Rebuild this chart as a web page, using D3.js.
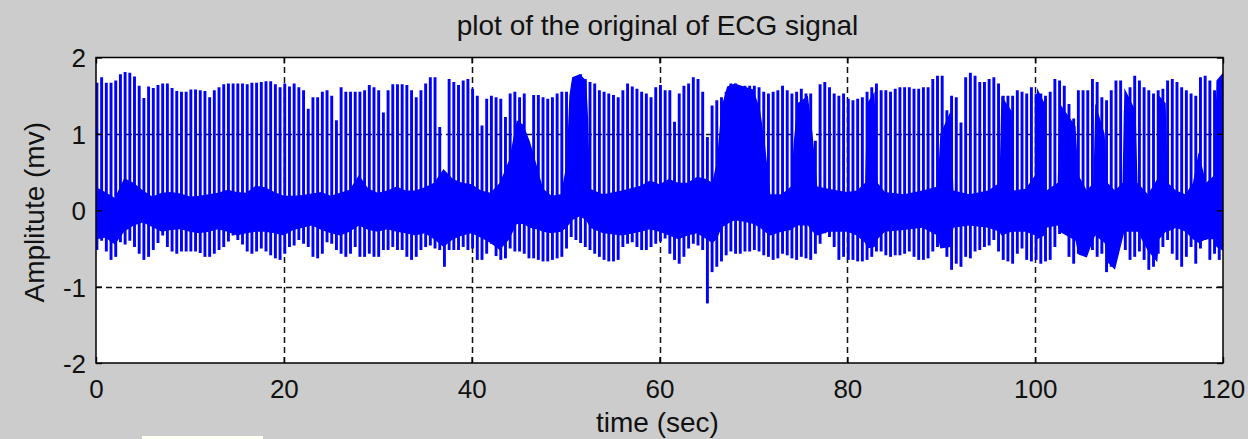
<!DOCTYPE html>
<html>
<head>
<meta charset="utf-8">
<script src="https://cdn.jsdelivr.net/npm/d3@7"></script>
<style>
  html, body { margin: 0; padding: 0; background: #cccccc; overflow: hidden; }
  text { font-family: "Liberation Sans", Arial, sans-serif; fill: #111; }
</style>
</head>
<body>
<div id="chart"></div>
<script>
// axis ticks
const xTicks = [0, 20, 40, 60, 80, 100, 120];
const yTicks = [-2, -1, 0, 1, 2];

// beats: one R peak every half second, first one at 0.1 s
const firstBeat = 0.1;
const beatPeriod = 0.5;

// R peak amplitude (mv), one per beat, read per 20 s panel
const peaks0 = [1.67, 1.74, 1.67, 1.67, 1.70, 1.78, 1.81, 1.80, 1.75, 1.63, 1.47, 1.62, 1.60, 1.64, 1.66, 1.66, 1.60, 1.56, 1.55, 1.55,
  1.58, 1.58, 1.57, 1.56, 1.48, 1.57, 1.61, 1.65, 1.66, 1.66, 1.66, 1.66, 1.65, 1.67, 1.67, 1.68, 1.69, 1.69, 1.65, 1.61];
const peaks20 = [1.66, 1.62, 1.66, 1.61, 1.57, 1.33, 1.48, 1.48, 1.55, 1.57, 1.50, 1.18, 1.61, 1.55, 1.55, 1.55, 1.55, 1.57, 1.64, 1.61,
  1.57, 1.28, 1.57, 1.65, 1.65, 1.65, 1.64, 1.57, 1.48, 1.57, 1.66, 1.74, 1.74, 1.09, 0.50, 1.72, 1.68, 1.64, 1.70, 1.72];
const peaks40 = [1.59, 1.50, 1.11, 1.46, 1.50, 1.48, 1.46, 1.22, 1.53, 1.55, 1.48, 1.53, 0.85, 1.51, 1.51, 1.48, 1.46, 1.48, 1.53, 1.55,
  1.55, 0.70, 1.70, 1.78, 1.72, 1.68, 1.66, 1.57, 1.55, 1.53, 1.51, 1.48, 1.57, 1.66, 1.62, 1.59, 1.55, 1.53, 1.48, 1.61];
const peaks60 = [1.64, 1.57, 1.57, 1.16, 1.53, 1.63, 1.66, 1.74, 1.72, 1.55, 0.96, 1.37, 1.44, 1.48, 1.55, 1.66, 1.66, 1.61, 1.63, 1.63,
  1.63, 1.61, 1.55, 1.53, 1.55, 1.57, 1.63, 1.57, 1.53, 1.55, 1.59, 1.53, 1.53, 0.91, 1.65, 1.68, 1.61, 1.53, 1.50, 1.53];
const peaks80 = [1.46, 1.44, 1.46, 1.48, 1.55, 1.61, 1.66, 1.57, 1.57, 1.55, 1.59, 1.61, 1.61, 1.61, 1.59, 1.59, 1.61, 1.61, 1.72, 1.76,
  1.76, 1.31, 1.50, 1.48, 1.15, 1.74, 1.80, 1.76, 1.68, 1.68, 1.72, 1.74, 1.66, 1.50, 1.50, 1.50, 1.57, 1.55, 1.53, 1.61];
const peaks100 = [1.53, 1.53, 1.50, 1.55, 1.72, 1.70, 1.63, 1.39, 1.20, 1.57, 1.57, 1.57, 1.72, 1.68, 1.48, 1.44, 1.57, 1.70, 1.70, 1.31,
  1.61, 1.76, 1.70, 1.61, 1.57, 1.53, 1.57, 1.59, 1.70, 1.72, 1.68, 1.61, 1.57, 1.53, 1.50, 1.74, 1.76, 1.70, 1.57, 1.68];

// S trough amplitude (mv), one per beat
const troughs0 = [-0.52, -0.40, -0.54, -0.65, -0.61, -0.42, -0.45, -0.40, -0.48, -0.57, -0.65, -0.61, -0.52, -0.43, -0.33, -0.48, -0.54, -0.57, -0.54, -0.54,
  -0.54, -0.54, -0.56, -0.61, -0.61, -0.57, -0.52, -0.48, -0.41, -0.33, -0.39, -0.45, -0.54, -0.57, -0.54, -0.50, -0.54, -0.59, -0.63, -0.65];
const troughs20 = [-0.57, -0.48, -0.46, -0.39, -0.44, -0.48, -0.61, -0.63, -0.57, -0.42, -0.44, -0.52, -0.57, -0.61, -0.57, -0.48, -0.61, -0.61, -0.57, -0.61,
  -0.61, -0.52, -0.52, -0.48, -0.52, -0.52, -0.61, -0.65, -0.61, -0.52, -0.48, -0.46, -0.50, -0.52, -0.74, -0.52, -0.52, -0.52, -0.48, -0.52];
const troughs40 = [-0.50, -0.65, -0.65, -0.57, -0.44, -0.60, -0.65, -0.63, -0.50, -0.54, -0.54, -0.57, -0.63, -0.63, -0.65, -0.67, -0.67, -0.65, -0.63, -0.61,
  -0.50, -0.35, -0.39, -0.43, -0.48, -0.52, -0.57, -0.61, -0.65, -0.67, -0.67, -0.65, -0.48, -0.44, -0.42, -0.48, -0.52, -0.52, -0.48, -0.44];
const troughs60 = [-0.41, -0.37, -0.57, -0.65, -0.70, -0.61, -0.50, -0.44, -0.46, -0.52, -1.22, -0.81, -0.74, -0.67, -0.59, -0.54, -0.57, -0.57, -0.54, -0.54,
  -0.52, -0.54, -0.59, -0.61, -0.65, -0.63, -0.57, -0.59, -0.63, -0.65, -0.61, -0.63, -0.65, -0.57, -0.44, -0.30, -0.35, -0.48, -0.65, -0.61];
const troughs80 = [-0.65, -0.65, -0.67, -0.67, -0.65, -0.61, -0.54, -0.54, -0.59, -0.61, -0.59, -0.59, -0.57, -0.54, -0.61, -0.65, -0.65, -0.63, -0.54, -0.48,
  -0.48, -0.61, -0.78, -0.70, -0.74, -0.61, -0.63, -0.54, -0.52, -0.48, -0.46, -0.39, -0.54, -0.65, -0.67, -0.70, -0.57, -0.50, -0.65, -0.67];
const troughs100 = [-0.65, -0.70, -0.67, -0.65, -0.48, -0.31, -0.22, -0.61, -0.70, -0.57, -0.48, -0.44, -0.52, -0.61, -0.57, -0.81, -0.74, -0.46, -0.26, -0.52,
  -0.65, -0.61, -0.54, -0.65, -0.78, -0.74, -0.57, -0.48, -0.39, -0.57, -0.65, -0.74, -0.61, -0.48, -0.70, -0.50, -0.39, -0.65, -0.57, -0.65];

// solid part of the trace: [time, upper edge, lower edge]
const bandA = [[0, 0.30, -0.38], [1, 0.24, -0.36], [2, 0.16, -0.45], [3, 0.42, -0.28], [4, 0.36, -0.20], [5, 0.26, -0.16], [6, 0.18, -0.22],
  [7, 0.23, -0.28], [8, 0.24, -0.26], [9, 0.22, -0.25], [10, 0.18, -0.28], [11, 0.19, -0.30], [12, 0.21, -0.28], [13, 0.23, -0.25],
  [14, 0.27, -0.28], [15, 0.24, -0.33], [16, 0.23, -0.30], [17, 0.32, -0.28], [18, 0.30, -0.28], [19, 0.24, -0.30], [20, 0.19, -0.33],
  [21, 0.19, -0.26], [22, 0.20, -0.23], [23, 0.22, -0.20], [24, 0.24, -0.26], [25, 0.19, -0.30], [26, 0.23, -0.33], [27, 0.27, -0.28],
  [28, 0.46, -0.20], [29, 0.28, -0.26], [30, 0.23, -0.28], [31, 0.26, -0.25], [32, 0.31, -0.28], [33, 0.26, -0.30], [34, 0.26, -0.33],
  [35, 0.30, -0.30], [36, 0.36, -0.38], [37, 0.54, -0.48], [38, 0.41, -0.38], [39, 0.36, -0.33], [40, 0.34, -0.30], [41, 0.26, -0.36],
  [42, 0.23, -0.43], [43, 0.36, -0.52], [44, 0.66, -0.38], [44.8, 1.18, -0.18], [45.5, 1.12, -0.18], [46.2, 0.90, -0.23], [46.9, 0.60, -0.25],
  [47.6, 0.28, -0.28], [48.5, 0.19, -0.30], [49.5, 0.21, -0.28], [50.1, 0.60, -0.23], [50.4, 1.50, -0.18], [50.7, 1.74, -0.13],
  [51.5, 1.78, -0.08], [52.2, 1.70, -0.13], [52.4, 1.20, -0.18], [52.6, 0.28, -0.23], [54, 0.21, -0.30], [56, 0.26, -0.33], [58, 0.32, -0.28],
  [59, 0.39, -0.25], [60, 0.34, -0.28]];
const bandB = [[61, 0.41, -0.33], [62, 0.36, -0.38], [63, 0.36, -0.33], [64, 0.44, -0.30], [65, 0.41, -0.38], [65.6, 0.36, -0.43],
  [66.1, 0.63, -0.38], [66.6, 1.35, -0.23], [67.2, 1.62, -0.18], [68, 1.66, -0.13], [69, 1.62, -0.15], [70, 1.58, -0.18], [70.7, 1.32, -0.23],
  [71.2, 0.90, -0.28], [71.8, 0.21, -0.33], [73, 0.21, -0.28], [74, 0.31, -0.26], [74.3, 0.90, -0.23], [74.7, 1.40, -0.20], [75.8, 1.50, -0.20],
  [76.3, 1.00, -0.28], [76.8, 0.31, -0.33], [78, 0.28, -0.28], [79, 0.26, -0.28], [80, 0.24, -0.28], [81, 0.26, -0.33], [81.9, 0.36, -0.43],
  [82.1, 1.40, -0.50], [82.9, 1.55, -0.48], [83.2, 0.36, -0.38], [84, 0.24, -0.28], [86, 0.21, -0.26], [88, 0.26, -0.23], [89.6, 0.31, -0.33],
  [89.9, 1.00, -0.50], [91.0, 1.30, -0.48], [91.3, 0.26, -0.23], [93, 0.21, -0.20], [95, 0.26, -0.23], [96.2, 0.36, -0.28], [96.4, 1.50, -0.33],
  [97.5, 1.30, -0.28], [97.7, 0.26, -0.28], [99, 0.28, -0.28], [100.0, 0.46, -0.33], [100.2, 1.60, -0.38], [101.0, 1.40, -0.33],
  [101.2, 0.26, -0.23], [102.4, 0.36, -0.20], [102.6, 1.40, -0.28], [104.3, 1.10, -0.40], [104.6, 0.46, -0.58], [105.5, 0.26, -0.62],
  [106.2, 0.36, -0.38], [106.4, 1.40, -0.33], [107.4, 1.00, -0.43], [107.7, 0.36, -0.68], [108.5, 0.26, -0.78], [109.3, 0.36, -0.38],
  [109.5, 1.60, -0.28], [110.7, 1.30, -0.28], [110.9, 0.36, -0.28], [112, 0.21, -0.53], [113, 0.41, -0.68], [113.2, 1.50, -0.38],
  [113.9, 1.40, -0.28], [114.1, 0.36, -0.28], [115, 0.26, -0.23], [116, 0.21, -0.28], [116.8, 0.36, -0.38], [117.4, 0.76, -0.43],
  [118.2, 0.36, -0.38], [119.1, 0.46, -0.38], [119.3, 1.70, -0.48], [120, 1.80, -0.53]];

const width = 1248, height = 439;
const plotLeft = 96, plotRight = 1223, plotTop = 57.5, plotBottom = 363;

const svg = d3.select("#chart").append("svg")
  .attr("width", width)
  .attr("height", height)
  .style("display", "block")
  .style("background", "#cccccc");

const x = d3.scaleLinear().domain([0, 120]).range([plotLeft, plotRight]);
const y = d3.scaleLinear().domain([-2, 2]).range([plotBottom, plotTop]);
// keep 1px-ish lines on the pixel grid
const crisp = v => Math.round(v) + 0.5;

svg.append("rect")
  .attr("x", plotLeft).attr("y", plotTop)
  .attr("width", plotRight - plotLeft).attr("height", plotBottom - plotTop)
  .attr("fill", "#fff");

// grid sits under the trace
const grid = svg.append("g")
  .attr("stroke", "#111")
  .attr("stroke-width", 1.5)
  .attr("stroke-dasharray", "6,4");

grid.selectAll("line.gx")
  .data(xTicks.slice(1, -1))
  .join("line")
  .attr("class", "gx")
  .attr("x1", d => crisp(x(d))).attr("x2", d => crisp(x(d)))
  .attr("y1", plotBottom).attr("y2", plotTop);

grid.selectAll("line.gy")
  .data(yTicks.slice(1, -1))
  .join("line")
  .attr("class", "gy")
  .attr("x1", plotLeft).attr("x2", plotRight)
  .attr("y1", d => crisp(y(d))).attr("y2", d => crisp(y(d)));

svg.append("clipPath").attr("id", "plot-clip")
  .append("rect")
  .attr("x", plotLeft).attr("y", plotTop)
  .attr("width", plotRight - plotLeft).attr("height", plotBottom - plotTop);

const plot = svg.append("g").attr("clip-path", "url(#plot-clip)");

//solid band around the baseline
const band = bandA.concat(bandB);
const area = d3.area()
  .x(d => x(d[0]))
  .y0(d => y(d[2]))
  .y1(d => y(d[1]));

plot.append("path")
  .datum(band)
  .attr("d", area)
  .attr("fill", "#0000ff");

//one spike per beat
const peaks = [].concat(peaks0, peaks20, peaks40, peaks60, peaks80, peaks100);
const troughs = [].concat(troughs0, troughs20, troughs40, troughs60, troughs80, troughs100);
const beats = peaks.map((p, i) => ({ t: firstBeat + i * beatPeriod, peak: p, trough: troughs[i] }));

plot.append("g")
  .selectAll("line")
  .data(beats)
  .join("line")
  .attr("x1", d => x(d.t))
  .attr("x2", d => x(d.t))
  .attr("y1", d => y(d.trough))
  .attr("y2", d => y(d.peak))
  .attr("stroke", "#0000ff")
  .attr("stroke-width", 2.9);

// axes with inward ticks
const fontSize = 26;
const plainNumber = d => String(d);

svg.append("g")
  .attr("transform", `translate(0,${plotBottom})`)
  .call(d3.axisBottom(x).tickValues(xTicks).tickSize(-6).tickPadding(17).tickFormat(plainNumber));
svg.append("g")
  .attr("transform", `translate(0,${plotTop})`)
  .call(d3.axisTop(x).tickValues(xTicks).tickSize(-6).tickFormat(""));
const yAxis = svg.append("g")
  .attr("transform", `translate(${plotLeft},0)`)
  .call(d3.axisLeft(y).tickValues(yTicks).tickSize(-6).tickPadding(10).tickFormat(plainNumber));
svg.append("g")
  .attr("transform", `translate(${plotRight},0)`)
  .call(d3.axisRight(y).tickValues(yTicks).tickSize(-6).tickFormat(""));

svg.selectAll(".domain").remove();
svg.selectAll(".tick line").attr("stroke", "#000").attr("stroke-width", 1.4);
svg.selectAll(".tick text")
  .attr("font-family", "Liberation Sans, Arial, sans-serif")
  .attr("font-size", fontSize)
  .attr("fill", "#111");
yAxis.selectAll(".tick text").attr("dy", "0.36em");

// axes box
svg.append("rect")
  .attr("x", plotLeft).attr("y", plotTop)
  .attr("width", plotRight - plotLeft).attr("height", plotBottom - plotTop)
  .attr("fill", "none")
  .attr("stroke", "#000")
  .attr("stroke-width", 1.5);

// title and labels
svg.append("text")
  .attr("x", (plotLeft + plotRight) / 2 - 2)
  .attr("y", 35)
  .attr("text-anchor", "middle")
  .attr("font-size", 28)
  .text("plot of the original of ECG signal");

svg.append("text")
  .attr("x", (plotLeft + plotRight) / 2 - 2)
  .attr("y", 432)
  .attr("text-anchor", "middle")
  .attr("font-size", 28)
  .text("time (sec)");

svg.append("text")
  .attr("transform", `translate(44,${(plotTop + plotBottom) / 2 + 2}) rotate(-90)`)
  .attr("text-anchor", "middle")
  .attr("font-size", 28)
  .text("Amplitute (mv)");

// small pale box peeking in at the bottom edge
svg.append("rect")
  .attr("x", 142).attr("y", 436)
  .attr("width", 121).attr("height", 4)
  .attr("fill", "#fffff2");
</script>
</body>
</html>
